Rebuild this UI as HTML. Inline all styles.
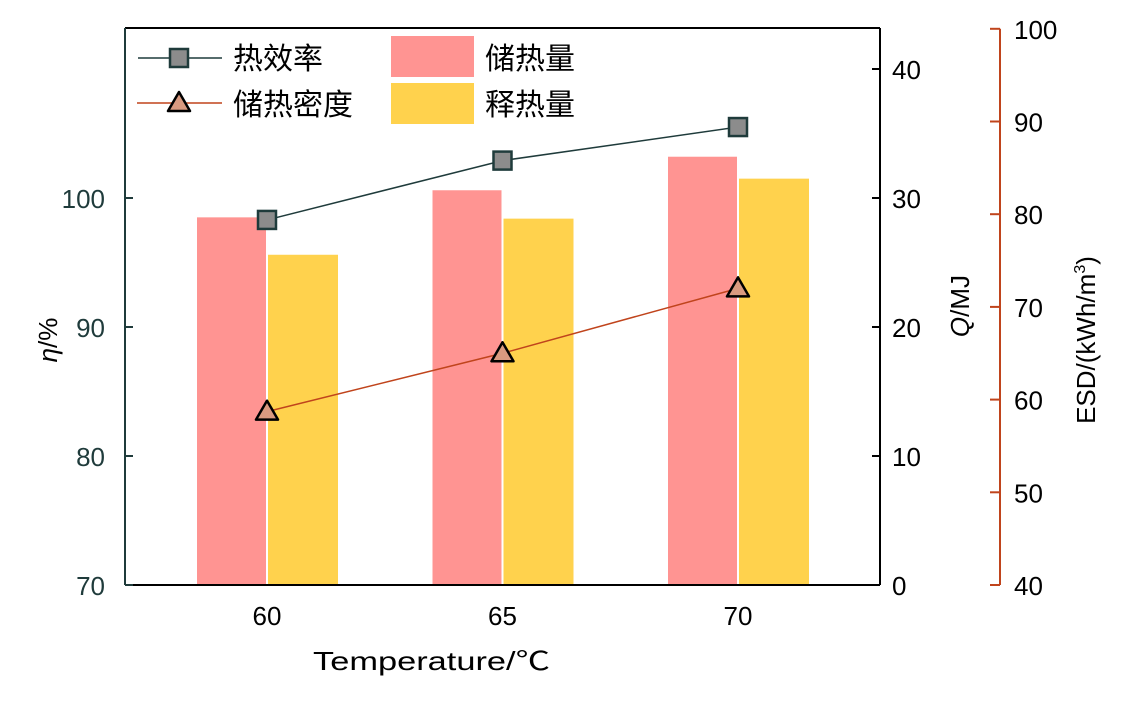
<!DOCTYPE html>
<html><head><meta charset="utf-8"><style>
html,body{margin:0;padding:0;background:#fff;}
svg{display:block;font-family:"Liberation Sans","Noto Sans CJK SC",sans-serif;}
</style></head><body>
<svg id="chart" width="1139" height="709"></svg>
<script>
const categories=[60,65,70];
const storedHeat=[28.5,30.6,33.2];
const releasedHeat=[25.6,28.4,31.5];
const efficiency=[98.3,102.9,105.5];
const esd=[58.7,65.0,72.0];
const etaTicks=[70,80,90,100];
const qTicks=[0,10,20,30,40];
const esdTicks=[40,50,60,70,80,90,100];

const L=125,R=880,T=28,B=585;
const xC=i=>267+i*235.5;
const yEta=v=>B-(v-70)*12.9;
const yQ=v=>B-v*12.9;
const yE=v=>B-(v-40)*9.27;
const svg=document.getElementById('chart');
const NS='http://www.w3.org/2000/svg';
function mk(tag,at,parent){const e=document.createElementNS(NS,tag);for(const k in at)e.setAttribute(k,at[k]);(parent||svg).appendChild(e);return e;}
function txt(s,at){const e=mk('text',at);e.textContent=s;return e;}
const FS=26;

categories.forEach((c,i)=>{
  let b=mk('rect',{x:xC(i)-70,y:yQ(storedHeat[i]),width:69,height:B-yQ(storedHeat[i]),fill:'#FF9492'});
  
  
  let y=mk('rect',{x:xC(i)+1,y:yQ(releasedHeat[i]),width:70,height:B-yQ(releasedHeat[i]),fill:'#FFD24D'});
  
  
});
let p1=mk('polyline',{points:efficiency.map((v,i)=>xC(i)+','+yEta(v)).join(' '),fill:'none',stroke:'#1f3b3b','stroke-width':1.5});


let p2=mk('polyline',{points:esd.map((v,i)=>xC(i)+','+yE(v)).join(' '),fill:'none',stroke:'#c0441c','stroke-width':1.5});


efficiency.forEach((v,i)=>{
  let m=mk('rect',{x:xC(i)-9,y:yEta(v)-9,width:18,height:18,fill:'#8c8c8c',stroke:'#1f3b3b','stroke-width':2.5});
  
  
});
esd.forEach((v,i)=>{
  const x=xC(i),y=yE(v);
  let m=mk('polygon',{points:`${x},${y-11} ${x-11},${y+8} ${x+11},${y+8}`,fill:'#d99a80',stroke:'#000','stroke-width':2.5,'stroke-linejoin':'round'});
  
  
});
mk('line',{x1:L,y1:T,x2:R,y2:T,stroke:'#000','stroke-width':2});
mk('line',{x1:L,y1:B,x2:R,y2:B,stroke:'#000','stroke-width':2});
mk('line',{x1:L,y1:T,x2:L,y2:B,stroke:'#1f3b3b','stroke-width':2});
mk('line',{x1:R,y1:T,x2:R,y2:B,stroke:'#000','stroke-width':2});
etaTicks.forEach(v=>{mk('line',{x1:L,y1:yEta(v),x2:L+8,y2:yEta(v),stroke:'#1f3b3b','stroke-width':2});
  let t=txt(v,{x:L-20,y:yEta(v)+10,'text-anchor':'end','font-size':FS,fill:'#1f3b3b'});
  });
qTicks.forEach(v=>{mk('line',{x1:R-8,y1:yQ(v),x2:R,y2:yQ(v),stroke:'#000','stroke-width':2});
  let t=txt(v,{x:R+12,y:yQ(v)+10,'font-size':FS,fill:'#000'});
  });
const EX=1000;
mk('line',{x1:EX,y1:yE(100),x2:EX,y2:B,stroke:'#c0441c','stroke-width':2});
esdTicks.forEach(v=>{mk('line',{x1:EX-10,y1:yE(v),x2:EX,y2:yE(v),stroke:'#c0441c','stroke-width':2});
  let t=txt(v,{x:EX+14,y:yE(v)+10,'font-size':FS,fill:'#000'});
  });
categories.forEach((c,i)=>{let t=txt(c,{x:xC(i),y:625,'text-anchor':'middle','font-size':FS});
  });
let xt=txt('Temperature/℃',{x:313,y:670,'font-size':FS,textLength:237,lengthAdjust:'spacingAndGlyphs'});

let yt=txt('',{transform:'translate(57,340) rotate(-90)','text-anchor':'middle','font-size':FS});
yt.innerHTML='<tspan font-style="italic">η</tspan>/%';

let qt=txt('',{transform:'translate(969,306) rotate(-90)','text-anchor':'middle','font-size':FS});
qt.innerHTML='<tspan font-style="italic">Q</tspan>/MJ';

let et=txt('',{transform:'translate(1095,340) rotate(-90)','text-anchor':'middle','font-size':FS});
et.innerHTML='ESD/(kWh/m<tspan font-size="16" dy="-10">3</tspan><tspan dy="10">)</tspan>';

const lg=mk('g',{});

mk('line',{x1:138,y1:58,x2:222,y2:58,stroke:'#1f3b3b','stroke-width':1.5},lg);
mk('rect',{x:170,y:49,width:18,height:18,fill:'#8c8c8c',stroke:'#1f3b3b','stroke-width':2.5},lg);
mk('line',{x1:137,y1:103,x2:222,y2:103,stroke:'#c0441c','stroke-width':1.5},lg);
mk('polygon',{points:'179,92 168,111 190,111',fill:'#d99a80',stroke:'#000','stroke-width':2.5,'stroke-linejoin':'round'},lg);
mk('rect',{x:391,y:36,width:83,height:41,fill:'#FF9492'},lg);
mk('rect',{x:391,y:83,width:83,height:41,fill:'#FFD24D'},lg);
[['热效率',233,69],['储热密度',233,115],['储热量',485,69],['释热量',485,115]].forEach(a=>{
  let t=txt(a[0],{x:a[1],y:a[2],'font-size':30});
  lg.appendChild(t);});
</script>
</body></html>
